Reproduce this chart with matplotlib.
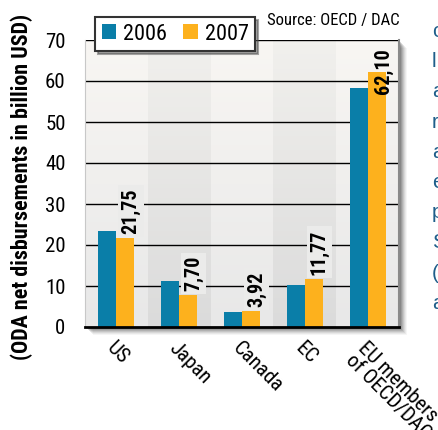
import numpy as np
import matplotlib as mpl
mpl.use('Agg')
import matplotlib.pyplot as plt
from matplotlib.patches import Patch, Rectangle

# data (billion USD)
donors = ['US', 'Japan', 'Canada', 'EC', 'EU members\nof OECD/DAC']
oda_2006 = [23.53, 11.19, 3.68, 10.25, 58.20]
oda_2007 = [21.75, 7.70, 3.92, 11.77, 62.10]
labels_2007 = ['21,75', '7,70', '3,92', '11,77', '62,10']
yticks = [0, 10, 20, 30, 40, 50, 60, 70]
years = ['2006', '2007']
# bits of the surrounding page text cut off at the right edge
margin_letters = ['c', 'l', 'a', 'r', 'a', 'e', 'p', 'S', '(', 'a']

blue = '#0a7ea8'
orange = '#fdb11d'
narrow = ['Roboto Condensed', 'Archivo Narrow', 'PT Sans Narrow', 'DejaVu Sans']

W, H = 439, 430
fig = plt.figure(figsize=(W/100, H/100), dpi=100)
fig.patch.set_facecolor('white')

x0, x1, y0, y1 = 85, 399, 40, 327     # plot area in pixels
ax = fig.add_axes([x0/W, 1-y1/H, (x1-x0)/W, (y1-y0)/H])

# soft drop shadow behind the plot area
for k, a in zip(range(8, 0, -1), [0.05, 0.07, 0.09, 0.12, 0.15, 0.18, 0.22, 0.28]):
    r = Rectangle(((x0+k)/W, 1-(y1+k)/H), (x1-x0)/W, (y1-y0)/H,
                  transform=fig.transFigure, facecolor='#404040', alpha=a,
                  edgecolor='none', zorder=-5)
    fig.add_artist(r)

# striped gradient background, one band per donor
n = len(donors)
rows = 60
t = np.linspace(0, 1, rows)[:, None]          # 0 bottom, 1 top
light_b, light_t = np.array([232, 232, 232]), np.array([248, 246, 243])
dark_b, dark_t = np.array([219, 219, 219]), np.array([241, 240, 237])
img = np.zeros((rows, n, 3))
for j in range(n):
    b, tp = (light_b, light_t) if j % 2 == 0 else (dark_b, dark_t)
    img[:, j, :] = (b + (tp - b) * t) / 255.0
ax.imshow(img, extent=(-0.5, n-0.5, 0, 70), aspect='auto', origin='lower',
          interpolation='nearest', zorder=0)

x = np.arange(n)
bw = 0.286
ax.bar(x - bw/2, oda_2006, bw, color=blue, zorder=3)
ax.bar(x + bw/2, oda_2007, bw, color=orange, zorder=3)

for yt in yticks[1:]:
    ax.axhline(yt, color='black', lw=1.0, zorder=2)

for i, (v, s) in enumerate(zip(oda_2007, labels_2007)):
    if v > 55:
        ax.annotate(s, (x[i] + bw/2, 70), xytext=(5, -6), textcoords='offset points',
                    rotation=90, ha='center', va='top', fontsize=14.5,
                    fontweight='bold', family=narrow, zorder=5)
    else:
        ax.annotate(s, (x[i] + bw/2, v), xytext=(4, 3), textcoords='offset points',
                    rotation=90, ha='center', va='bottom', fontsize=14.5,
                    fontweight='bold', family=narrow, zorder=5,
                    bbox=dict(boxstyle='square,pad=0.15', fc='#ebebea', ec='none'))

ax.set_xlim(-0.5, n-0.5)
ax.set_ylim(0, 70)
ax.set_yticks(yticks)
ax.set_yticklabels([str(v) for v in yticks], family=narrow, fontsize=15)
ax.set_xticks(x)
ax.set_xticklabels(donors, rotation=-45, ha='left', va='top',
                   rotation_mode='anchor', family=narrow, fontsize=15,
                   linespacing=0.9)
ax.tick_params(axis='both', length=0)
ax.tick_params(axis='y', pad=14)
ax.tick_params(axis='x', pad=8)

ax.spines['top'].set_visible(False)
ax.spines['left'].set_color('#c8c8c8')
ax.spines['right'].set_color('#8a8a8a')
ax.spines['right'].set_linewidth(1.5)
ax.spines['bottom'].set_color('black')
ax.spines['bottom'].set_linewidth(2)
for sp in ax.spines.values():
    sp.set_zorder(6)

fig.text(22/W, 1-187/H, '(ODA net disbursements in billion USD)', rotation=90,
         ha='center', va='center', fontsize=15.8, fontweight='bold', family=narrow)
fig.text(400/W, 1-20/H, 'Source: OECD / DAC', ha='right', va='center',
         fontsize=12, family=narrow)

handles = [Patch(facecolor=blue), Patch(facecolor=orange)]
leg = fig.legend(handles, years, loc='upper left', bbox_to_anchor=(95/W, 1-17/H),
                 ncol=2, frameon=True, fancybox=False, shadow=True,
                 handlelength=0.65, handleheight=0.65, handletextpad=0.3,
                 columnspacing=0.75, borderpad=0.3, borderaxespad=0,
                 prop={'family': narrow, 'size': 16})
leg.get_frame().set_edgecolor('#333333')
leg.get_frame().set_linewidth(1.5)
leg.set_zorder(10)

for i, ch in enumerate(margin_letters):
    fig.text(432/W, 1-(37 + 30.2*i)/H, ch, ha='left', va='baseline',
             fontsize=15, color='#1f5e8a', family=['Liberation Sans', 'DejaVu Sans'])

fig.savefig('out.png', dpi=100)
